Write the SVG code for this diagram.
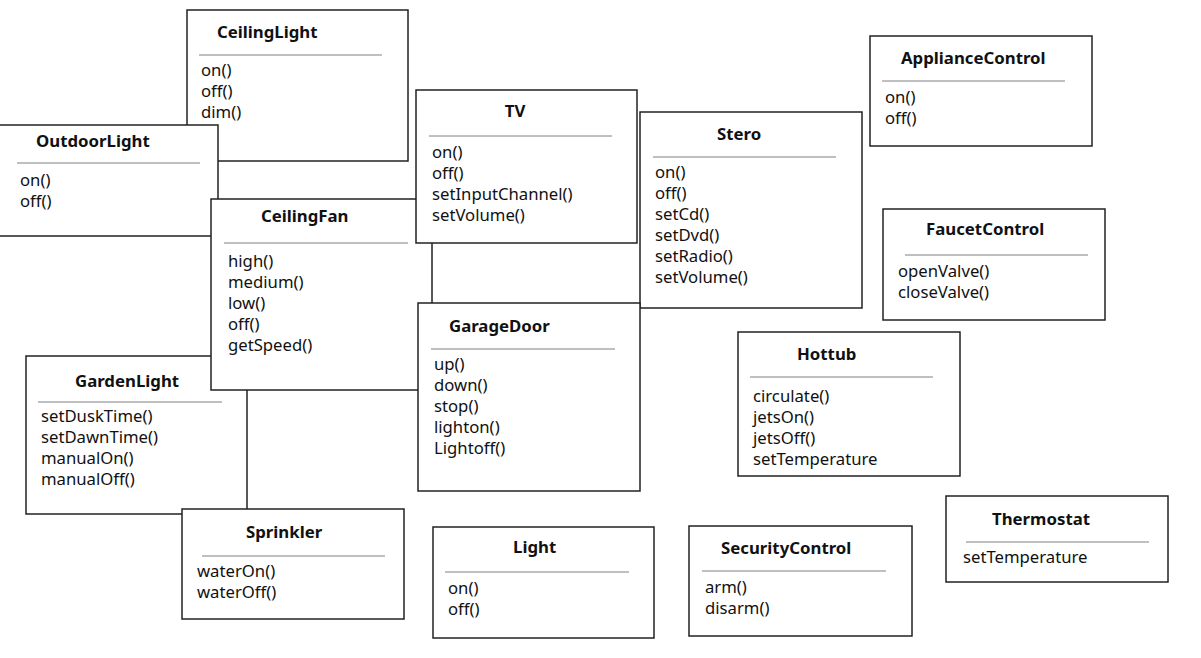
<svg xmlns="http://www.w3.org/2000/svg" width="1201" height="658" viewBox="0 0 1201 658">
<style>
.box{fill:#fff;stroke:#222;stroke-width:1.5}
.div{stroke:#808080;stroke-width:1}
.t{font-family:"Noto Sans","Open Sans","Liberation Sans",sans-serif;font-size:16.8px;font-weight:bold;fill:#111}
.m{font-family:"Noto Sans","Open Sans","Liberation Sans",sans-serif;font-size:16.7px;fill:#111}
</style>
<rect width="1201" height="658" fill="#fff"/>
<g id="connectors"/>
<g id="CeilingLight">
<rect class="box" x="187" y="10" width="221" height="151"/>
<text class="t" x="217" y="38">CeilingLight</text>
<line class="div" x1="199" y1="55" x2="382" y2="55"/>
<text class="m" x="201" y="76">on()</text>
<text class="m" x="201" y="97">off()</text>
<text class="m" x="201" y="118">dim()</text>
</g>
<g id="OutdoorLight">
<rect class="box" x="-2" y="125" width="220" height="111"/>
<text class="t" x="36" y="147">OutdoorLight</text>
<line class="div" x1="17" y1="163" x2="200" y2="163"/>
<text class="m" x="20" y="186">on()</text>
<text class="m" x="20" y="207">off()</text>
</g>
<g id="GardenLight">
<rect class="box" x="26" y="356" width="221" height="158"/>
<text class="t" x="75" y="387">GardenLight</text>
<line class="div" x1="38" y1="402" x2="222" y2="402"/>
<text class="m" x="41" y="422">setDuskTime()</text>
<text class="m" x="41" y="443">setDawnTime()</text>
<text class="m" x="41" y="464">manualOn()</text>
<text class="m" x="41" y="485">manualOff()</text>
</g>
<g id="CeilingFan">
<rect class="box" x="211" y="199" width="221" height="191"/>
<text class="t" x="261" y="222">CeilingFan</text>
<line class="div" x1="224" y1="243" x2="408" y2="243"/>
<text class="m" x="228" y="267">high()</text>
<text class="m" x="228" y="288">medium()</text>
<text class="m" x="228" y="309">low()</text>
<text class="m" x="228" y="330">off()</text>
<text class="m" x="228" y="351">getSpeed()</text>
</g>
<g id="TV">
<rect class="box" x="416" y="90" width="221" height="153"/>
<text class="t" x="515" y="117" text-anchor="middle">TV</text>
<line class="div" x1="429" y1="136" x2="612" y2="136"/>
<text class="m" x="432" y="158">on()</text>
<text class="m" x="432" y="179">off()</text>
<text class="m" x="432" y="200">setInputChannel()</text>
<text class="m" x="432" y="221">setVolume()</text>
</g>
<g id="Stero">
<rect class="box" x="640" y="112" width="222" height="196"/>
<text class="t" x="717" y="140">Stero</text>
<line class="div" x1="653" y1="157" x2="836" y2="157"/>
<text class="m" x="655" y="178">on()</text>
<text class="m" x="655" y="199">off()</text>
<text class="m" x="655" y="220">setCd()</text>
<text class="m" x="655" y="241">setDvd()</text>
<text class="m" x="655" y="262">setRadio()</text>
<text class="m" x="655" y="283">setVolume()</text>
</g>
<g id="GarageDoor">
<rect class="box" x="418" y="303" width="222" height="188"/>
<text class="t" x="449" y="332">GarageDoor</text>
<line class="div" x1="431" y1="349" x2="615" y2="349"/>
<text class="m" x="434" y="370">up()</text>
<text class="m" x="434" y="391">down()</text>
<text class="m" x="434" y="412">stop()</text>
<text class="m" x="434" y="433">lighton()</text>
<text class="m" x="434" y="454">Lightoff()</text>
</g>
<g id="Sprinkler">
<rect class="box" x="182" y="509" width="222" height="110"/>
<text class="t" x="246" y="538">Sprinkler</text>
<line class="div" x1="202" y1="556" x2="385" y2="556"/>
<text class="m" x="197" y="577">waterOn()</text>
<text class="m" x="197" y="598">waterOff()</text>
</g>
<g id="ApplianceControl">
<rect class="box" x="870" y="36" width="222" height="110"/>
<text class="t" x="901" y="64">ApplianceControl</text>
<line class="div" x1="882" y1="81" x2="1065" y2="81"/>
<text class="m" x="885" y="103">on()</text>
<text class="m" x="885" y="124">off()</text>
</g>
<g id="FaucetControl">
<rect class="box" x="883" y="209" width="222" height="111"/>
<text class="t" x="926" y="235">FaucetControl</text>
<line class="div" x1="905" y1="255" x2="1088" y2="255"/>
<text class="m" x="898" y="277">openValve()</text>
<text class="m" x="898" y="298">closeValve()</text>
</g>
<g id="Hottub">
<rect class="box" x="738" y="332" width="222" height="144"/>
<text class="t" x="797" y="360">Hottub</text>
<line class="div" x1="750" y1="377" x2="933" y2="377"/>
<text class="m" x="753" y="402">circulate()</text>
<text class="m" x="753" y="423">jetsOn()</text>
<text class="m" x="753" y="444">jetsOff()</text>
<text class="m" x="753" y="465">setTemperature</text>
</g>
<g id="Thermostat">
<rect class="box" x="946" y="496" width="222" height="86"/>
<text class="t" x="992" y="525">Thermostat</text>
<line class="div" x1="966" y1="542" x2="1149" y2="542"/>
<text class="m" x="963" y="563">setTemperature</text>
</g>
<g id="Light">
<rect class="box" x="433" y="527" width="221" height="111"/>
<text class="t" x="513" y="553">Light</text>
<line class="div" x1="445" y1="572" x2="629" y2="572"/>
<text class="m" x="448" y="594">on()</text>
<text class="m" x="448" y="615">off()</text>
</g>
<g id="SecurityControl">
<rect class="box" x="689" y="526" width="223" height="110"/>
<text class="t" x="721" y="554">SecurityControl</text>
<line class="div" x1="702" y1="571" x2="886" y2="571"/>
<text class="m" x="705" y="593">arm()</text>
<text class="m" x="705" y="614">disarm()</text>
</g>
</svg>
